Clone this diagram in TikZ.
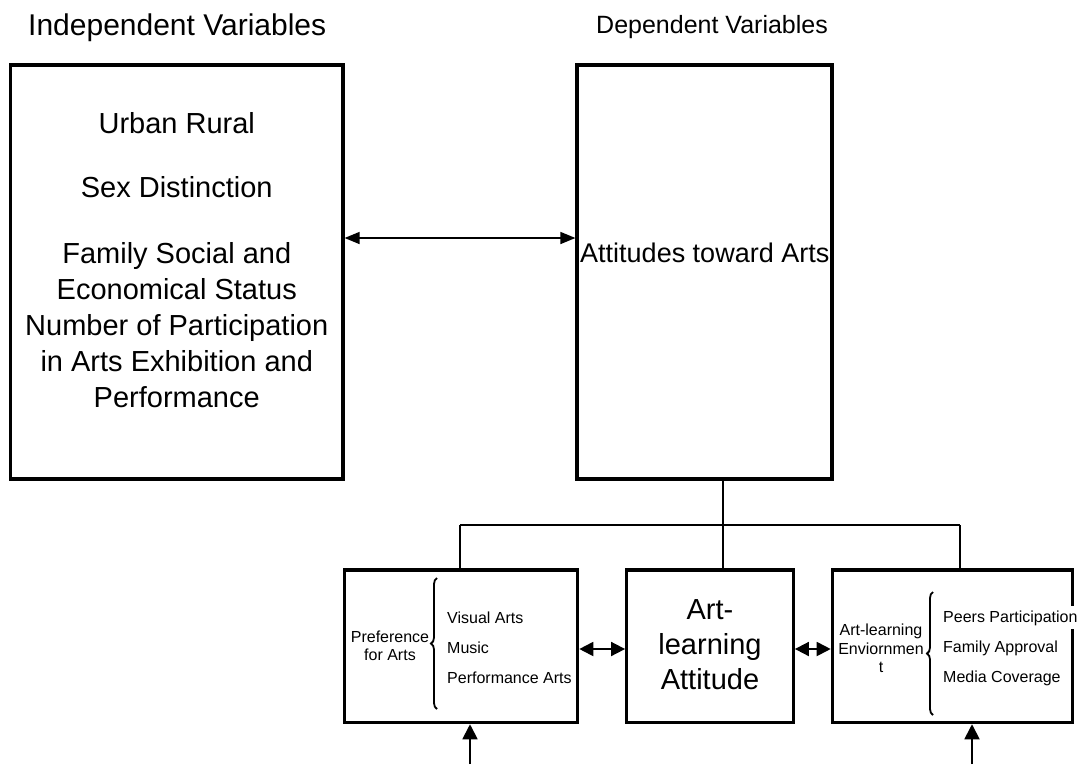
\documentclass[tikz,border=0pt]{standalone}
\usepackage{fontspec}
\setmainfont{Liberation Sans}
\usetikzlibrary{arrows.meta,decorations.pathreplacing}

\begin{document}
\begin{tikzpicture}[
    x=1pt, y=-1pt,
    box/.style={draw, line width=3.2pt, inner sep=0pt},
    conn/.style={line width=1.8pt},
    arr/.style={{Triangle[length=15pt,width=12pt]}-{Triangle[length=15pt,width=12pt]}, line width=1.5pt},
    sarr/.style={{Triangle[length=14pt,width=14pt]}-{Triangle[length=14pt,width=14pt]}, line width=1.8pt},
    uarr/.style={-{Triangle[length=15pt,width=15pt]}, line width=1.8pt},
    brc/.style={decorate, decoration={brace, amplitude=6pt}, line width=1.8pt},
    big/.style={font=\fontsize{29}{36}\selectfont, align=center, inner sep=0pt},
    small/.style={font=\fontsize{16}{18.5}\selectfont, inner sep=0pt}
  ]
    \useasboundingbox (0,0) rectangle (1077,764);

    % headings
    \node[anchor=base west, inner sep=0pt, font=\fontsize{30}{36}\selectfont]
      (indephead) at (28,35) {Independent Variables};
    \node[anchor=base west, inner sep=0pt, font=\fontsize{25}{30}\selectfont]
      (dephead) at (596,33) {Dependent Variables};

    % big boxes
    \node[box, minimum width=332.5pt, minimum height=414pt] (indep) at (176.75,272) {};
    \node[box, minimum width=255pt, minimum height=414pt] (att) at (704.5,272) {};
    \node[big, anchor=north] (indeptext) at (176.75,112)
      {Urban Rural\\[28pt]Sex Distinction\\[30pt]Family Social and\\Economical Status\\
       Number of Participation\\in Arts Exhibition and\\Performance};
    \node[anchor=base west, inner sep=0pt, font=\fontsize{27}{32}\selectfont]
      (atttext) at (580,262) {Attitudes toward Arts};

    % small boxes
    \node[box, minimum width=233.4pt, minimum height=152.7pt] (pref) at (461,646.3) {};
    \node[box, minimum width=166.6pt, minimum height=152.7pt] (alatt) at (710,646.3) {};
    \node[box, minimum width=240pt, minimum height=152.7pt] (env) at (952.3,646.3) {};

    \node[big, anchor=north, font=\fontsize{29}{35}\selectfont] (alatttext) at (710,599)
      {Art-\\learning\\Attitude};

    \node[small, align=center, anchor=north] (preftext) at (390,630.7) {Preference\\for Arts};
    \draw[brc] (437,709) -- (437,578);
    \node[small, anchor=base west] (visual) at (447,623) {Visual Arts};
    \node[small, anchor=base west] (music) at (447,653) {Music};
    \node[small, anchor=base west] (perf) at (447,683) {Performance Arts};

    \node[small, align=center, anchor=north] (envtext) at (881,623.7) {Art-learning\\Enviornmen\\t};
    \draw[brc] (933,715) -- (933,592);
    \node[small, anchor=base west, fill=white, inner ysep=4pt] (peers) at (943,622) {Peers Participation};
    \node[small, anchor=base west] (famapp) at (943,652) {Family Approval};
    \node[small, anchor=base west] (media) at (943,682) {Media Coverage};

    % connectors
    \coordinate (toprow) at (0,238);
    \coordinate (lowrow) at (0,649);
    \coordinate (bus) at (723,525);
    \coordinate (busL) at (460,525);
    \coordinate (busR) at (960,525);
    \coordinate (prefin) at (470,764);
    \coordinate (envin) at (972,764);

    \draw[arr] (indep.east |- toprow) -- (att.west |- toprow);
    \draw[conn] (att.south -| bus) -- (bus);
    \draw[conn] (busL) -- (busR);
    \draw[conn] (busL) -- (busL |- pref.north);
    \draw[conn] (bus) -- (bus |- alatt.north);
    \draw[conn] (busR) -- (busR |- env.north);
    \draw[sarr] (pref.east |- lowrow) -- (alatt.west |- lowrow);
    \draw[sarr] (alatt.east |- lowrow) -- (env.west |- lowrow);
    \draw[uarr] (prefin) -- (prefin |- pref.south);
    \draw[uarr] (envin) -- (envin |- env.south);
\end{tikzpicture}
\end{document}
